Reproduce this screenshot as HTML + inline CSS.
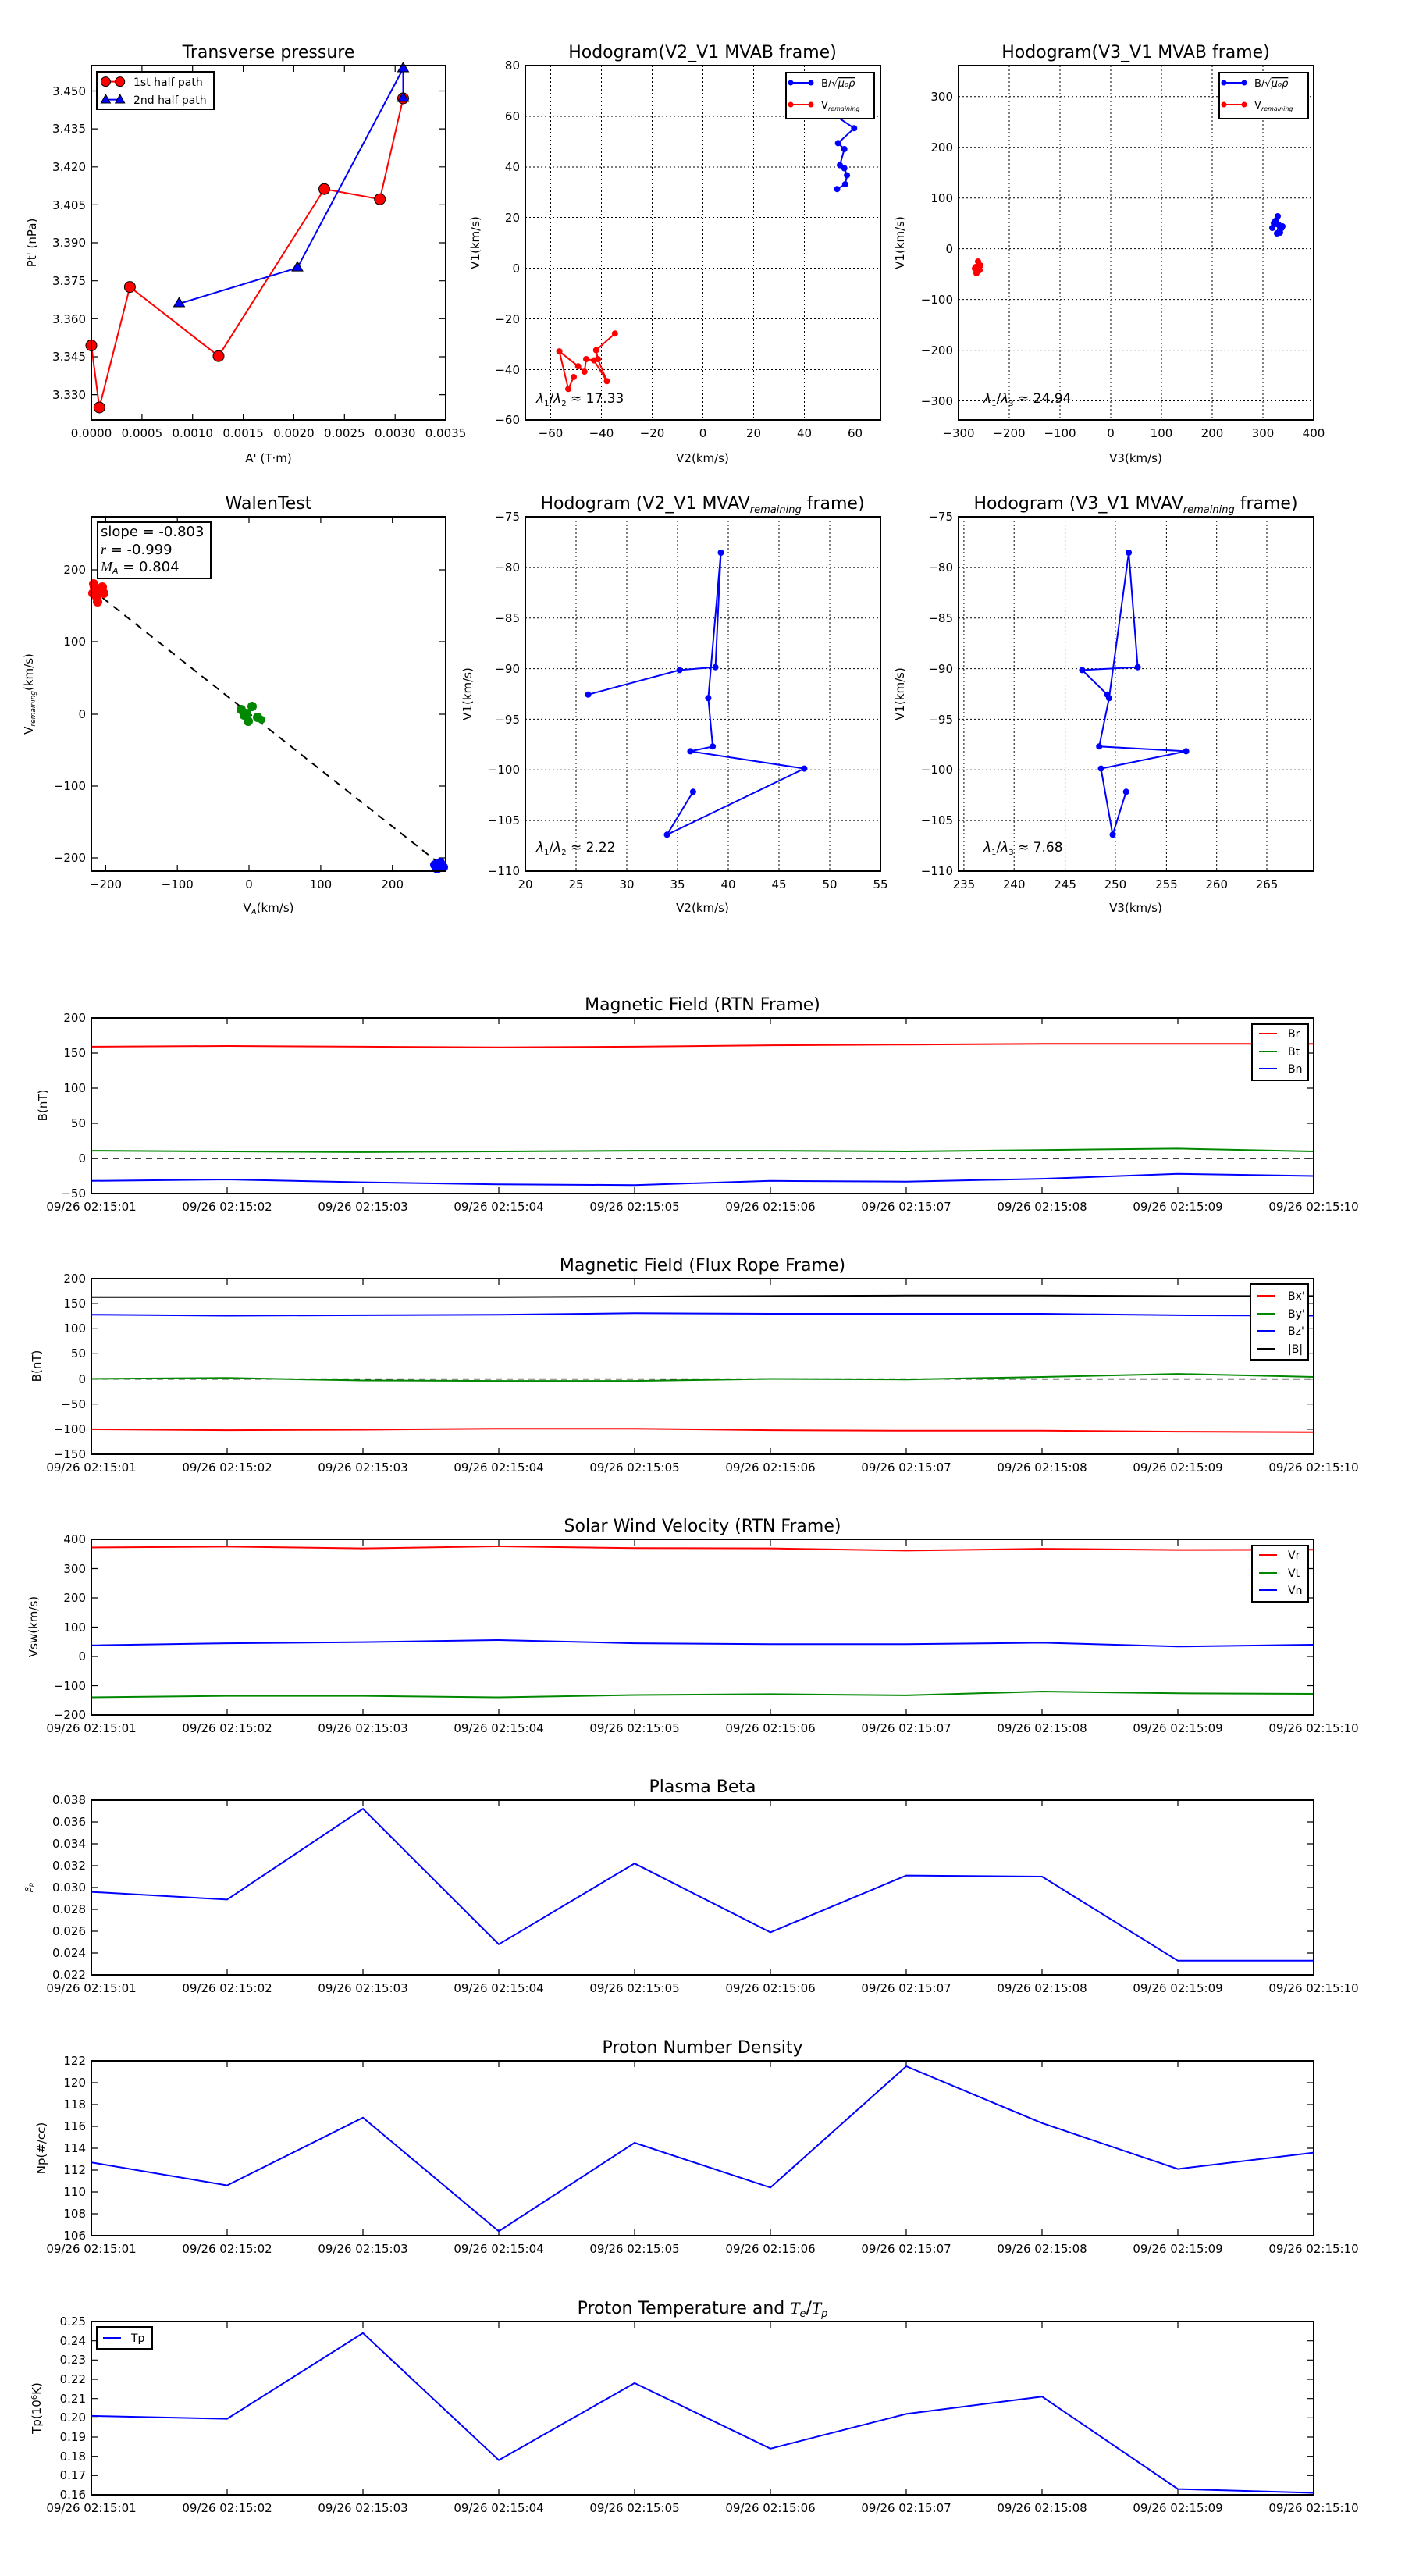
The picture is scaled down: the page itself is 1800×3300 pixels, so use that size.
<!DOCTYPE html>
<html><head><meta charset="utf-8"><style>
html,body{margin:0;padding:0;background:#fff}
svg{display:block}
text{font-family:"DejaVu Sans","Liberation Sans",sans-serif;fill:#000}
.t{font-size:15px}
.ti{font-size:22px}
.ax{fill:none;stroke:#000;stroke-width:2}
.tk{stroke:#000;stroke-width:1.2}
.gr{stroke:#000;stroke-width:1;stroke-dasharray:2,3}
.ln{fill:none;stroke-width:2}
</style></head><body>
<svg width="1800" height="3300" viewBox="0 0 1800 3300" xmlns="http://www.w3.org/2000/svg">
<rect width="1800" height="3300" fill="#fff"/>

<!-- ============ Transverse pressure ============ -->
<text class="ti" x="344" y="74" text-anchor="middle">Transverse pressure</text>
<g class="tk">
<path d="M117,505.6h8M117,457h8M117,408.3h8M117,359.7h8M117,311h8M117,262.4h8M117,213.8h8M117,165.1h8M117,116.5h8
M571,505.6h-8M571,457h-8M571,408.3h-8M571,359.7h-8M571,311h-8M571,262.4h-8M571,213.8h-8M571,165.1h-8M571,116.5h-8
M181.9,538v-8M246.7,538v-8M311.6,538v-8M376.4,538v-8M441.3,538v-8M506.2,538v-8
M181.9,84v8M246.7,84v8M311.6,84v8M376.4,84v8M441.3,84v8M506.2,84v8"/>
</g>
<g class="t" text-anchor="end">
<text x="110" y="511">3.330</text><text x="110" y="462">3.345</text><text x="110" y="414">3.360</text>
<text x="110" y="365">3.375</text><text x="110" y="316">3.390</text><text x="110" y="268">3.405</text>
<text x="110" y="219">3.420</text><text x="110" y="170">3.435</text><text x="110" y="122">3.450</text>
</g>
<g class="t" text-anchor="middle">
<text x="117" y="560">0.0000</text><text x="181.9" y="560">0.0005</text><text x="246.7" y="560">0.0010</text>
<text x="311.6" y="560">0.0015</text><text x="376.4" y="560">0.0020</text><text x="441.3" y="560">0.0025</text>
<text x="506.2" y="560">0.0030</text><text x="571" y="560">0.0035</text>
<text x="344" y="592">A' (T·m)</text>
</g>
<text class="t" transform="translate(46,311) rotate(-90)" text-anchor="middle">Pt' (nPa)</text>
<polyline class="ln" stroke="#f00" points="117,442.5 127.3,522 166.4,367.6 280,456.2 415.5,242.2 486.7,255.2 516.5,126"/>
<polyline class="ln" stroke="#00f" points="229.5,389 381,343.1 516.5,87.8 516.5,126"/>
<g fill="#f00" stroke="#000" stroke-width="1">
<circle cx="117" cy="442.5" r="7"/><circle cx="127.3" cy="522" r="7"/><circle cx="166.4" cy="367.6" r="7"/>
<circle cx="280" cy="456.2" r="7"/><circle cx="415.5" cy="242.2" r="7"/><circle cx="486.7" cy="255.2" r="7"/><circle cx="516.5" cy="126" r="7"/>
</g>
<g fill="#00f" stroke="#000" stroke-width="1">
<path d="M229.5,381l7,12h-14z"/><path d="M381,335.1l7,12h-14z"/><path d="M516.5,80l7,12h-14z"/><path d="M516.5,118l7,12h-14z"/>
</g>
<rect x="124" y="92" width="150" height="48" fill="#fff" stroke="#000" stroke-width="2"/>
<line x1="135" y1="104.6" x2="154" y2="104.6" stroke="#f00" stroke-width="2"/>
<circle cx="135.4" cy="104.6" r="6" fill="#f00" stroke="#000"/><circle cx="153.7" cy="104.6" r="6" fill="#f00" stroke="#000"/>
<line x1="135" y1="127.6" x2="154" y2="127.6" stroke="#00f" stroke-width="2"/>
<path d="M135.4,121l6,11h-12z" fill="#00f" stroke="#000"/><path d="M153.7,121l6,11h-12z" fill="#00f" stroke="#000"/>
<text x="171" y="110" style="font-size:14px">1st half path</text>
<text x="171" y="133" style="font-size:14px">2nd half path</text>
<rect class="ax" x="117" y="84" width="454" height="454"/>

<!-- ============ Hodogram V2_V1 MVAB ============ -->
<text class="ti" x="900" y="74" text-anchor="middle">Hodogram(V2_V1 MVAB frame)</text>
<g class="gr">
<path d="M705.5,84V538M770.5,84V538M835.5,84V538M900.5,84V538M965.5,84V538M1030.5,84V538M1095.5,84V538
M673,149h455M673,214h455M673,278.5h455M673,343.5h455M673,408.5h455M673,473.5h455"/>
</g>
<g class="t" text-anchor="end">
<text x="666" y="89">80</text><text x="666" y="154">60</text><text x="666" y="219">40</text><text x="666" y="284">20</text>
<text x="666" y="349">0</text><text x="666" y="414">−20</text><text x="666" y="479">−40</text><text x="666" y="543">−60</text>
</g>
<g class="t" text-anchor="middle">
<text x="705.5" y="560">−60</text><text x="770.5" y="560">−40</text><text x="835.5" y="560">−20</text><text x="900.5" y="560">0</text>
<text x="965.5" y="560">20</text><text x="1030.5" y="560">40</text><text x="1095.5" y="560">60</text>
<text x="900" y="592">V2(km/s)</text>
</g>
<text class="t" transform="translate(614,311) rotate(-90)" text-anchor="middle">V1(km/s)</text>
<polyline class="ln" stroke="#00f" points="1068,146.7 1094.3,164.3 1073.7,183.4 1081.7,191 1076,211.6 1081.7,215.5 1085.1,224.6 1082.8,236.1 1072.5,242.2"/>
<g fill="#00f"><circle cx="1094.3" cy="164.3" r="4"/><circle cx="1073.7" cy="183.4" r="4"/><circle cx="1081.7" cy="191" r="4"/><circle cx="1076" cy="211.6" r="4"/><circle cx="1081.7" cy="215.5" r="4"/><circle cx="1085.1" cy="224.6" r="4"/><circle cx="1082.8" cy="236.1" r="4"/><circle cx="1072.5" cy="242.2" r="4"/></g>
<polyline class="ln" stroke="#f00" points="787.8,427.2 763.7,448.6 766,460 777.5,488.3 761,461.6 751,460 748.8,476.1 740.7,469.2 716.6,450.1 728.1,498.3 735,483"/>
<g fill="#f00"><circle cx="787.8" cy="427.2" r="4"/><circle cx="763.7" cy="448.6" r="4"/><circle cx="766" cy="460" r="4"/><circle cx="777.5" cy="488.3" r="4"/><circle cx="761" cy="461.6" r="4"/><circle cx="751" cy="460" r="4"/><circle cx="748.8" cy="476.1" r="4"/><circle cx="740.7" cy="469.2" r="4"/><circle cx="716.6" cy="450.1" r="4"/><circle cx="728.1" cy="498.3" r="4"/><circle cx="735" cy="483" r="4"/></g>
<rect x="1007" y="93" width="113" height="59" fill="#fff" stroke="#000" stroke-width="2"/>
<line x1="1013" y1="106" x2="1039" y2="106" stroke="#00f" stroke-width="2"/><circle cx="1013" cy="106" r="3.5" fill="#00f"/><circle cx="1039" cy="106" r="3.5" fill="#00f"/>
<line x1="1013" y1="134" x2="1039" y2="134" stroke="#f00" stroke-width="2"/><circle cx="1013" cy="134" r="3.5" fill="#f00"/><circle cx="1039" cy="134" r="3.5" fill="#f00"/>
<text x="1052" y="111" style="font-size:13px">B/√<tspan font-style="italic" text-decoration="overline">μ₀ρ</tspan></text>
<text x="1052" y="139" style="font-size:13px">V<tspan font-style="italic" font-size="8" dy="3">remaining</tspan></text>
<text x="687" y="516" style="font-size:17px"><tspan font-style="italic">λ</tspan><tspan font-size="10" dy="4">1</tspan><tspan dy="-4">/</tspan><tspan font-style="italic">λ</tspan><tspan font-size="10" dy="4">2</tspan><tspan dy="-4"> ≈ 17.33</tspan></text>
<rect class="ax" x="673" y="84" width="455" height="454"/>

<!-- ============ Hodogram V3_V1 MVAB ============ -->
<text class="ti" x="1455" y="74" text-anchor="middle">Hodogram(V3_V1 MVAB frame)</text>
<g class="gr">
<path d="M1293,84V538M1358,84V538M1423,84V538M1488,84V538M1553,84V538M1618,84V538
M1228,123.7h455M1228,188.7h455M1228,253.7h455M1228,318.6h455M1228,383.6h455M1228,448.6h455M1228,513.5h455"/>
</g>
<g class="t" text-anchor="end">
<text x="1221" y="129">300</text><text x="1221" y="194">200</text><text x="1221" y="259">100</text><text x="1221" y="324">0</text>
<text x="1221" y="389">−100</text><text x="1221" y="454">−200</text><text x="1221" y="519">−300</text>
</g>
<g class="t" text-anchor="middle">
<text x="1228" y="560">−300</text><text x="1293" y="560">−200</text><text x="1358" y="560">−100</text><text x="1423" y="560">0</text>
<text x="1488" y="560">100</text><text x="1553" y="560">200</text><text x="1618" y="560">300</text><text x="1683" y="560">400</text>
<text x="1455" y="592">V3(km/s)</text>
</g>
<text class="t" transform="translate(1158,311) rotate(-90)" text-anchor="middle">V1(km/s)</text>
<polyline class="ln" stroke="#00f" points="1632,286 1637,277 1640,298 1643,290 1634,283 1630,292 1638,288 1636,299 1642,292"/>
<g fill="#00f"><circle cx="1632" cy="286" r="4"/><circle cx="1637" cy="277" r="4"/><circle cx="1640" cy="298" r="4"/><circle cx="1643" cy="290" r="4"/><circle cx="1634" cy="283" r="4"/><circle cx="1630" cy="292" r="4"/><circle cx="1638" cy="288" r="4"/><circle cx="1636" cy="299" r="4"/><circle cx="1642" cy="292" r="4"/></g>
<polyline class="ln" stroke="#f00" points="1253,335 1250,342 1255,346 1251,350 1256,340 1249,344 1254,338"/>
<g fill="#f00"><circle cx="1253" cy="335" r="4"/><circle cx="1250" cy="342" r="4"/><circle cx="1255" cy="346" r="4"/><circle cx="1251" cy="350" r="4"/><circle cx="1256" cy="340" r="4"/><circle cx="1249" cy="344" r="4"/></g>
<rect x="1562" y="93" width="114" height="59" fill="#fff" stroke="#000" stroke-width="2"/>
<line x1="1568" y1="106" x2="1594" y2="106" stroke="#00f" stroke-width="2"/><circle cx="1568" cy="106" r="3.5" fill="#00f"/><circle cx="1594" cy="106" r="3.5" fill="#00f"/>
<line x1="1568" y1="134" x2="1594" y2="134" stroke="#f00" stroke-width="2"/><circle cx="1568" cy="134" r="3.5" fill="#f00"/><circle cx="1594" cy="134" r="3.5" fill="#f00"/>
<text x="1607" y="111" style="font-size:13px">B/√<tspan font-style="italic" text-decoration="overline">μ₀ρ</tspan></text>
<text x="1607" y="139" style="font-size:13px">V<tspan font-style="italic" font-size="8" dy="3">remaining</tspan></text>
<text x="1260" y="516" style="font-size:17px"><tspan font-style="italic">λ</tspan><tspan font-size="10" dy="4">1</tspan><tspan dy="-4">/</tspan><tspan font-style="italic">λ</tspan><tspan font-size="10" dy="4">3</tspan><tspan dy="-4"> ≈ 24.94</tspan></text>
<rect class="ax" x="1228" y="84" width="455" height="454"/>

<!-- ============ WalenTest ============ -->
<text class="ti" x="344" y="652" text-anchor="middle">WalenTest</text>
<g class="tk">
<path d="M117,730h8M117,822h8M117,915h8M117,1007h8M117,1099h8M571,730h-8M571,822h-8M571,915h-8M571,1007h-8M571,1099h-8
M135.4,1116v-8M227.2,1116v-8M319,1116v-8M410.9,1116v-8M502.7,1116v-8M135.4,662v8M227.2,662v8M319,662v8M410.9,662v8M502.7,662v8"/>
</g>
<g class="t" text-anchor="end">
<text x="110" y="735">200</text><text x="110" y="827">100</text><text x="110" y="920">0</text><text x="110" y="1012">−100</text><text x="110" y="1104">−200</text>
</g>
<g class="t" text-anchor="middle">
<text x="135.4" y="1138">−200</text><text x="227.2" y="1138">−100</text><text x="319" y="1138">0</text><text x="410.9" y="1138">100</text><text x="502.7" y="1138">200</text>
<text x="344" y="1168">V<tspan font-style="italic" font-size="10" dy="3">A</tspan><tspan dy="-3">(km/s)</tspan></text>
</g>
<text class="t" transform="translate(42,889) rotate(-90)" text-anchor="middle">V<tspan font-style="italic" font-size="9" dy="3">remaining</tspan><tspan dy="-3">(km/s)</tspan></text>
<line x1="117" y1="754.5" x2="570.5" y2="1112.2" stroke="#000" stroke-width="2" stroke-dasharray="10,8"/>
<g fill="#f00"><circle cx="121" cy="752" r="6"/><circle cx="128" cy="756" r="6"/><circle cx="133" cy="760" r="6"/><circle cx="124" cy="765" r="6"/><circle cx="119" cy="760" r="6"/><circle cx="131" cy="752" r="6"/><circle cx="125" cy="771" r="6"/><circle cx="120" cy="748" r="6"/></g>
<g fill="#080"><circle cx="309" cy="909" r="6"/><circle cx="316" cy="914" r="6"/><circle cx="323" cy="905" r="6"/><circle cx="330" cy="919" r="6"/><circle cx="318" cy="924" r="6"/><circle cx="335" cy="922" r="5"/><circle cx="312" cy="917" r="5"/></g>
<g fill="#00f"><circle cx="557" cy="1108" r="6"/><circle cx="564" cy="1105" r="6"/><circle cx="568" cy="1111" r="6"/><circle cx="560" cy="1113" r="6"/></g>
<rect x="125" y="669" width="145" height="72" fill="#fff" stroke="#000" stroke-width="2"/>
<g style="font-size:18px">
<text x="129" y="687">slope = -0.803</text>
<text x="129" y="710"><tspan font-style="italic" font-family="Liberation Serif">r</tspan> = -0.999</text>
<text x="129" y="732"><tspan font-style="italic" font-family="Liberation Serif">M</tspan><tspan font-style="italic" font-size="11" dy="3">A</tspan><tspan dy="-3"> = 0.804</tspan></text>
</g>
<rect class="ax" x="117" y="662" width="454" height="454"/>

<!-- ============ Hodogram V2_V1 MVAV ============ -->
<text class="ti" x="900" y="652" text-anchor="middle">Hodogram (V2_V1 MVAV<tspan font-style="italic" font-size="13" dy="5">remaining</tspan><tspan dy="-5"> frame)</tspan></text>
<g class="gr">
<path d="M738,662V1116M803,662V1116M868,662V1116M933,662V1116M998,662V1116M1063,662V1116
M673,726.9h455M673,791.7h455M673,856.6h455M673,921.4h455M673,986.3h455M673,1051.1h455"/>
</g>
<g class="t" text-anchor="end">
<text x="666" y="667">−75</text><text x="666" y="732">−80</text><text x="666" y="797">−85</text><text x="666" y="862">−90</text>
<text x="666" y="927">−95</text><text x="666" y="991">−100</text><text x="666" y="1056">−105</text><text x="666" y="1121">−110</text>
</g>
<g class="t" text-anchor="middle">
<text x="673" y="1138">20</text><text x="738" y="1138">25</text><text x="803" y="1138">30</text><text x="868" y="1138">35</text>
<text x="933" y="1138">40</text><text x="998" y="1138">45</text><text x="1063" y="1138">50</text><text x="1128" y="1138">55</text>
<text x="900" y="1168">V2(km/s)</text>
</g>
<text class="t" transform="translate(604,889) rotate(-90)" text-anchor="middle">V1(km/s)</text>
<polyline class="ln" stroke="#00f" points="753.5,889.8 870.6,858.4 916.6,854.7 923.5,708 907.4,894.3 913.1,956.3 884.4,962.4 1030.4,984.6 854.5,1069.3 887.9,1014.3"/>
<g fill="#00f"><circle cx="753.5" cy="889.8" r="4"/><circle cx="870.6" cy="858.4" r="4"/><circle cx="916.6" cy="854.7" r="4"/><circle cx="923.5" cy="708" r="4"/><circle cx="907.4" cy="894.3" r="4"/><circle cx="913.1" cy="956.3" r="4"/><circle cx="884.4" cy="962.4" r="4"/><circle cx="1030.4" cy="984.6" r="4"/><circle cx="854.5" cy="1069.3" r="4"/><circle cx="887.9" cy="1014.3" r="4"/></g>
<text x="687" y="1091" style="font-size:17px"><tspan font-style="italic">λ</tspan><tspan font-size="10" dy="4">1</tspan><tspan dy="-4">/</tspan><tspan font-style="italic">λ</tspan><tspan font-size="10" dy="4">2</tspan><tspan dy="-4"> ≈ 2.22</tspan></text>
<rect class="ax" x="673" y="662" width="455" height="454"/>

<!-- ============ Hodogram V3_V1 MVAV ============ -->
<text class="ti" x="1455" y="652" text-anchor="middle">Hodogram (V3_V1 MVAV<tspan font-style="italic" font-size="13" dy="5">remaining</tspan><tspan dy="-5"> frame)</tspan></text>
<g class="gr">
<path d="M1234.9,662V1116M1299.2,662V1116M1364.6,662V1116M1428.9,662V1116M1494.4,662V1116M1558.7,662V1116M1623,662V1116
M1228,726.9h455M1228,791.7h455M1228,856.6h455M1228,921.4h455M1228,986.3h455M1228,1051.1h455"/>
</g>
<g class="t" text-anchor="end">
<text x="1221" y="667">−75</text><text x="1221" y="732">−80</text><text x="1221" y="797">−85</text><text x="1221" y="862">−90</text>
<text x="1221" y="927">−95</text><text x="1221" y="991">−100</text><text x="1221" y="1056">−105</text><text x="1221" y="1121">−110</text>
</g>
<g class="t" text-anchor="middle">
<text x="1234.9" y="1138">235</text><text x="1299.2" y="1138">240</text><text x="1364.6" y="1138">245</text><text x="1428.9" y="1138">250</text>
<text x="1494.4" y="1138">255</text><text x="1558.7" y="1138">260</text><text x="1623" y="1138">265</text>
<text x="1455" y="1168">V3(km/s)</text>
</g>
<text class="t" transform="translate(1158,889) rotate(-90)" text-anchor="middle">V1(km/s)</text>
<polyline class="ln" stroke="#00f" points="1418.6,889.8 1386.4,858.4 1457.6,854.7 1446.1,708 1420.9,894.3 1408.2,956.3 1519.6,962.4 1410.5,984.6 1425.5,1069.3 1442.7,1014.3"/>
<g fill="#00f"><circle cx="1418.6" cy="889.8" r="4"/><circle cx="1386.4" cy="858.4" r="4"/><circle cx="1457.6" cy="854.7" r="4"/><circle cx="1446.1" cy="708" r="4"/><circle cx="1420.9" cy="894.3" r="4"/><circle cx="1408.2" cy="956.3" r="4"/><circle cx="1519.6" cy="962.4" r="4"/><circle cx="1410.5" cy="984.6" r="4"/><circle cx="1425.5" cy="1069.3" r="4"/><circle cx="1442.7" cy="1014.3" r="4"/></g>
<text x="1260" y="1091" style="font-size:17px"><tspan font-style="italic">λ</tspan><tspan font-size="10" dy="4">1</tspan><tspan dy="-4">/</tspan><tspan font-style="italic">λ</tspan><tspan font-size="10" dy="4">3</tspan><tspan dy="-4"> ≈ 7.68</tspan></text>
<rect class="ax" x="1228" y="662" width="455" height="454"/>

<!-- ============ Time-series x ticks (shared pattern) ============ -->
<defs>
<g id="xt">
<path class="tk" d="M291,0v-8M465,0v-8M639,0v-8M813,0v-8M987,0v-8M1161,0v-8M1335,0v-8M1509,0v-8"/>
<g class="t" text-anchor="middle">
<text x="117" y="22">09/26 02:15:01</text><text x="291" y="22">09/26 02:15:02</text><text x="465" y="22">09/26 02:15:03</text>
<text x="639" y="22">09/26 02:15:04</text><text x="813" y="22">09/26 02:15:05</text><text x="987" y="22">09/26 02:15:06</text>
<text x="1161" y="22">09/26 02:15:07</text><text x="1335" y="22">09/26 02:15:08</text><text x="1509" y="22">09/26 02:15:09</text>
<text x="1683" y="22">09/26 02:15:10</text>
</g>
</g>
<g id="xtt"><path class="tk" d="M291,0v8M465,0v8M639,0v8M813,0v8M987,0v8M1161,0v8M1335,0v8M1509,0v8"/></g>
</defs>

<!-- Panel 1: Magnetic Field RTN -->
<text class="ti" x="900" y="1294" text-anchor="middle">Magnetic Field (RTN Frame)</text>
<use href="#xt" x="0" y="1529"/><use href="#xtt" x="0" y="1304"/>
<g class="tk"><path d="M117,1349h8M117,1394h8M117,1439h8M117,1484h8M1683,1349h-8M1683,1394h-8M1683,1439h-8M1683,1484h-8"/></g>
<g class="t" text-anchor="end">
<text x="110" y="1309">200</text><text x="110" y="1354">150</text><text x="110" y="1399">100</text><text x="110" y="1444">50</text>
<text x="110" y="1489">0</text><text x="110" y="1534">−50</text>
</g>
<text class="t" transform="translate(60,1416) rotate(-90)" text-anchor="middle">B(nT)</text>
<line x1="117" y1="1484" x2="1683" y2="1484" stroke="#000" stroke-width="1.5" stroke-dasharray="8,6"/>
<polyline class="ln" stroke="#f00" points="117,1340.9 291,1340 465,1340.9 639,1341.8 813,1340.9 987,1339.1 1161,1338.2 1335,1337.3 1509,1337.3 1683,1337.3"/>
<polyline class="ln" stroke="#080" points="117,1474.1 291,1475 465,1475.9 639,1475 813,1474.1 987,1474.1 1161,1475 1335,1473.2 1509,1471.4 1683,1475"/>
<polyline class="ln" stroke="#00f" points="117,1512.8 291,1511 465,1514.6 639,1517.3 813,1518.2 987,1512.8 1161,1513.7 1335,1510.1 1509,1503.8 1683,1506.5"/>
<rect x="1604" y="1312" width="72" height="72" fill="#fff" stroke="#000" stroke-width="2"/>
<line x1="1613" y1="1324" x2="1636" y2="1324" stroke="#f00" stroke-width="2"/><text x="1650" y="1329" style="font-size:14px">Br</text>
<line x1="1613" y1="1347" x2="1636" y2="1347" stroke="#080" stroke-width="2"/><text x="1650" y="1352" style="font-size:14px">Bt</text>
<line x1="1613" y1="1369" x2="1636" y2="1369" stroke="#00f" stroke-width="2"/><text x="1650" y="1374" style="font-size:14px">Bn</text>
<rect class="ax" x="117" y="1304" width="1566" height="225"/>

<!-- Panel 2: Flux Rope Frame -->
<text class="ti" x="900" y="1628" text-anchor="middle">Magnetic Field (Flux Rope Frame)</text>
<use href="#xt" x="0" y="1863"/><use href="#xtt" x="0" y="1638"/>
<g class="tk"><path d="M117,1670.1h8M117,1702.3h8M117,1734.4h8M117,1766.6h8M117,1798.7h8M117,1830.9h8M1683,1670.1h-8M1683,1702.3h-8M1683,1734.4h-8M1683,1766.6h-8M1683,1798.7h-8M1683,1830.9h-8"/></g>
<g class="t" text-anchor="end">
<text x="110" y="1643">200</text><text x="110" y="1675">150</text><text x="110" y="1707">100</text><text x="110" y="1739">50</text>
<text x="110" y="1772">0</text><text x="110" y="1804">−50</text><text x="110" y="1836">−100</text><text x="110" y="1868">−150</text>
</g>
<text class="t" transform="translate(52,1750) rotate(-90)" text-anchor="middle">B(nT)</text>
<line x1="117" y1="1766.6" x2="1683" y2="1766.6" stroke="#000" stroke-width="1.5" stroke-dasharray="8,6"/>
<polyline class="ln" stroke="#000" stroke-width="2.5" points="117,1661.7 291,1661.7 465,1661.7 639,1661.7 813,1661.1 987,1660.4 1161,1659.8 1335,1659.8 1509,1660.4 1683,1660.4"/>
<polyline class="ln" stroke="#00f" points="117,1684.2 291,1685.5 465,1684.9 639,1684.2 813,1682.3 987,1683 1161,1683 1335,1683 1509,1684.9 1683,1685.5"/>
<polyline class="ln" stroke="#080" points="117,1766.5 291,1765.3 465,1768.5 639,1769.1 813,1769.1 987,1766.5 1161,1767.2 1335,1764 1509,1760.1 1683,1764"/>
<polyline class="ln" stroke="#f00" points="117,1830.9 291,1832.1 465,1831.5 639,1830.2 813,1830.2 987,1832.1 1161,1832.8 1335,1832.8 1509,1834.1 1683,1834.7"/>
<rect x="1602" y="1645" width="74" height="97" fill="#fff" stroke="#000" stroke-width="2"/>
<line x1="1611" y1="1660" x2="1634" y2="1660" stroke="#f00" stroke-width="2"/><text x="1650" y="1665" style="font-size:14px">Bx'</text>
<line x1="1611" y1="1683" x2="1634" y2="1683" stroke="#080" stroke-width="2"/><text x="1650" y="1688" style="font-size:14px">By'</text>
<line x1="1611" y1="1705" x2="1634" y2="1705" stroke="#00f" stroke-width="2"/><text x="1650" y="1710" style="font-size:14px">Bz'</text>
<line x1="1611" y1="1728" x2="1634" y2="1728" stroke="#000" stroke-width="2"/><text x="1650" y="1733" style="font-size:14px">|B|</text>
<rect class="ax" x="117" y="1638" width="1566" height="225"/>

<!-- Panel 3: Solar wind velocity -->
<text class="ti" x="900" y="1962" text-anchor="middle">Solar Wind Velocity (RTN Frame)</text>
<use href="#xt" x="0" y="2197"/><use href="#xtt" x="0" y="1972"/>
<g class="tk"><path d="M117,2009.5h8M117,2047h8M117,2084.5h8M117,2122h8M117,2159.5h8M1683,2009.5h-8M1683,2047h-8M1683,2084.5h-8M1683,2122h-8M1683,2159.5h-8"/></g>
<g class="t" text-anchor="end">
<text x="110" y="1977">400</text><text x="110" y="2015">300</text><text x="110" y="2052">200</text><text x="110" y="2090">100</text>
<text x="110" y="2127">0</text><text x="110" y="2165">−100</text><text x="110" y="2202">−200</text>
</g>
<text class="t" transform="translate(48,2084) rotate(-90)" text-anchor="middle">Vsw(km/s)</text>
<polyline class="ln" stroke="#f00" points="117,1982.5 291,1981.4 465,1983.6 639,1981 813,1983.3 987,1983.6 1161,1986.4 1335,1984.1 1509,1985.6 1683,1985.3"/>
<polyline class="ln" stroke="#080" points="117,2174.5 291,2172.6 465,2172.6 639,2174.5 813,2171.5 987,2170.4 1161,2171.9 1335,2167 1509,2169.3 1683,2170"/>
<polyline class="ln" stroke="#00f" points="117,2107.8 291,2105.1 465,2103.6 639,2101 813,2105.1 987,2106.3 1161,2106.3 1335,2104.4 1509,2109.3 1683,2107"/>
<rect x="1604" y="1980" width="72" height="72" fill="#fff" stroke="#000" stroke-width="2"/>
<line x1="1613" y1="1992" x2="1636" y2="1992" stroke="#f00" stroke-width="2"/><text x="1650" y="1997" style="font-size:14px">Vr</text>
<line x1="1613" y1="2015" x2="1636" y2="2015" stroke="#080" stroke-width="2"/><text x="1650" y="2020" style="font-size:14px">Vt</text>
<line x1="1613" y1="2037" x2="1636" y2="2037" stroke="#00f" stroke-width="2"/><text x="1650" y="2042" style="font-size:14px">Vn</text>
<rect class="ax" x="117" y="1972" width="1566" height="225"/>

<!-- Panel 4: Plasma Beta -->
<text class="ti" x="900" y="2296" text-anchor="middle">Plasma Beta</text>
<use href="#xt" x="0" y="2530"/><use href="#xtt" x="0" y="2306"/>
<g class="tk"><path d="M117,2334h8M117,2362h8M117,2390h8M117,2418h8M117,2446h8M117,2474h8M117,2502h8M1683,2334h-8M1683,2362h-8M1683,2390h-8M1683,2418h-8M1683,2446h-8M1683,2474h-8M1683,2502h-8"/></g>
<g class="t" text-anchor="end">
<text x="110" y="2311">0.038</text><text x="110" y="2339">0.036</text><text x="110" y="2367">0.034</text><text x="110" y="2395">0.032</text>
<text x="110" y="2423">0.030</text><text x="110" y="2451">0.028</text><text x="110" y="2479">0.026</text><text x="110" y="2507">0.024</text><text x="110" y="2535">0.022</text>
</g>
<text transform="translate(40,2418) rotate(-90)" text-anchor="middle" style="font-size:11px;font-style:italic">β<tspan font-size="8" dy="2">p</tspan></text>
<polyline class="ln" stroke="#00f" points="117,2423.6 291,2433.4 465,2317.2 639,2490.8 813,2387.2 987,2475.4 1161,2402.6 1335,2404 1509,2511.8 1683,2511.8"/>
<rect class="ax" x="117" y="2306" width="1566" height="224"/>

<!-- Panel 5: Proton Number Density -->
<text class="ti" x="900" y="2630" text-anchor="middle">Proton Number Density</text>
<use href="#xt" x="0" y="2864"/><use href="#xtt" x="0" y="2640"/>
<g class="tk"><path d="M117,2668h8M117,2696h8M117,2724h8M117,2752h8M117,2780h8M117,2808h8M117,2836h8M1683,2668h-8M1683,2696h-8M1683,2724h-8M1683,2752h-8M1683,2780h-8M1683,2808h-8M1683,2836h-8"/></g>
<g class="t" text-anchor="end">
<text x="110" y="2645">122</text><text x="110" y="2673">120</text><text x="110" y="2701">118</text><text x="110" y="2729">116</text>
<text x="110" y="2757">114</text><text x="110" y="2785">112</text><text x="110" y="2813">110</text><text x="110" y="2841">108</text><text x="110" y="2869">106</text>
</g>
<text class="t" transform="translate(58,2752) rotate(-90)" text-anchor="middle">Np(#/cc)</text>
<polyline class="ln" stroke="#00f" points="117,2770.2 291,2799.6 465,2712.8 639,2858.4 813,2745 987,2802.4 1161,2647 1335,2719.8 1509,2778.6 1683,2757.6"/>
<rect class="ax" x="117" y="2640" width="1566" height="224"/>

<!-- Panel 6: Proton Temperature -->
<text class="ti" x="900" y="2964" text-anchor="middle">Proton Temperature and <tspan font-style="italic" font-family="Liberation Serif">T</tspan><tspan font-style="italic" font-size="13" dy="4">e</tspan><tspan dy="-4">/</tspan><tspan font-style="italic" font-family="Liberation Serif">T</tspan><tspan font-style="italic" font-size="13" dy="4">p</tspan></text>
<use href="#xt" x="0" y="3196"/><use href="#xtt" x="0" y="2974"/>
<g class="tk"><path d="M117,2998.7h8M117,3023.3h8M117,3048h8M117,3072.7h8M117,3097.3h8M117,3122h8M117,3146.7h8M117,3171.3h8M1683,2998.7h-8M1683,3023.3h-8M1683,3048h-8M1683,3072.7h-8M1683,3097.3h-8M1683,3122h-8M1683,3146.7h-8M1683,3171.3h-8"/></g>
<g class="t" text-anchor="end">
<text x="110" y="2979">0.25</text><text x="110" y="3004">0.24</text><text x="110" y="3028">0.23</text><text x="110" y="3053">0.22</text>
<text x="110" y="3078">0.21</text><text x="110" y="3102">0.20</text><text x="110" y="3127">0.19</text><text x="110" y="3152">0.18</text>
<text x="110" y="3176">0.17</text><text x="110" y="3201">0.16</text>
</g>
<text class="t" transform="translate(52,3085) rotate(-90)" text-anchor="middle">Tp(10<tspan font-size="10" dy="-5">6</tspan><tspan dy="5">K)</tspan></text>
<polyline class="ln" stroke="#00f" points="117,3094.9 291,3098.6 465,2988.8 639,3151.6 813,3052.9 987,3136.8 1161,3092.4 1335,3070.2 1509,3188.6 1683,3193.5"/>
<rect x="124" y="2981" width="71" height="28" fill="#fff" stroke="#000" stroke-width="2"/>
<line x1="132" y1="2995" x2="155" y2="2995" stroke="#00f" stroke-width="2"/><text x="168" y="3000" style="font-size:14px">Tp</text>
<rect class="ax" x="117" y="2974" width="1566" height="222"/>
</svg>
</body></html>
